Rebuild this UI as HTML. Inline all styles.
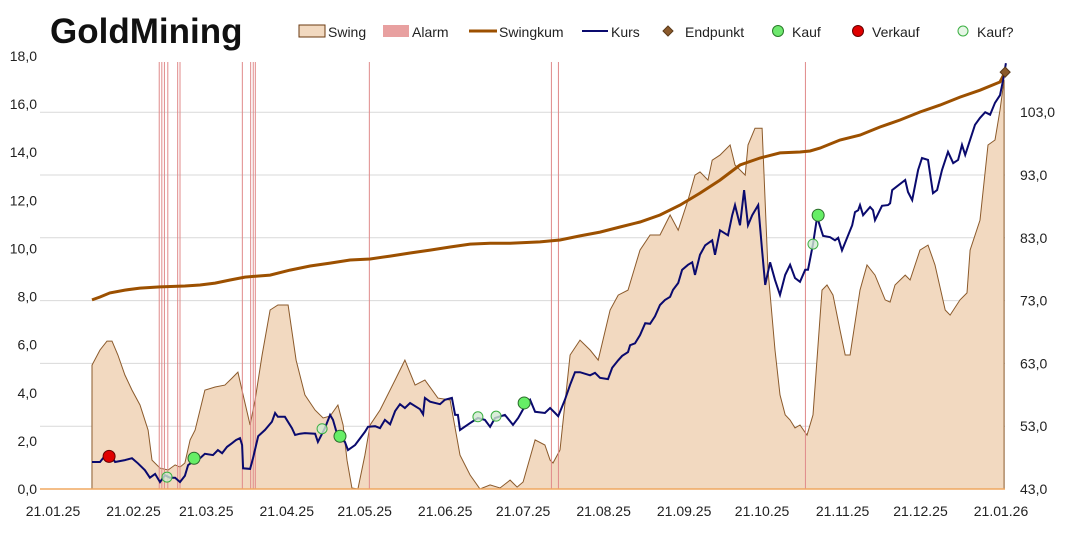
<!DOCTYPE html>
<html><head><meta charset="utf-8">
<style>
body{margin:0;background:#fff;}
svg{display:block;font-family:"Liberation Sans",sans-serif;}
</style></head>
<body>
<svg id="chart" width="1066" height="556" viewBox="0 0 1066 556">
<text x="50" y="43" font-size="35" font-weight="bold" fill="#111">GoldMining</text>
<g id="legend" font-size="14" fill="#222">
 <g><rect x="299" y="25" width="26" height="12" fill="#f2d9c0" stroke="#6b3a10" stroke-width="1"/><text x="328" y="37">Swing</text></g>
 <g><rect x="383" y="25" width="26" height="12" fill="#e8a0a0"/><text x="412" y="37">Alarm</text></g>
 <g><line x1="469" y1="31" x2="497" y2="31" stroke="#9c5000" stroke-width="3"/><text x="499" y="37">Swingkum</text></g>
 <g><line x1="582" y1="31" x2="608" y2="31" stroke="#0a0a6e" stroke-width="2"/><text x="611" y="37">Kurs</text></g>
 <g><polygon points="668,26 673,31 668,36 663,31" fill="#8b5a2b" stroke="#5a3a1a"/><text x="685" y="37">Endpunkt</text></g>
 <g><circle cx="778" cy="31" r="5.5" fill="#6ee86e" stroke="#2a7a2a"/><text x="792" y="37">Kauf</text></g>
 <g><circle cx="858" cy="31" r="5.5" fill="#e00000" stroke="#600"/><text x="872" y="37">Verkauf</text></g>
 <g><circle cx="963" cy="31" r="5" fill="#e6f6e6" stroke="#3cb043"/><text x="977" y="37">Kauf?</text></g>
</g>
<g id="grid"></g><g id="swing"></g><g id="alarms"></g><g id="lines"></g><g id="marks"></g><g id="axes"></g>
</svg>
<script>
const NS="http://www.w3.org/2000/svg";
const swingDays=[15.0,18.1,20.8,22.7,25.0,27.7,30.4,33.5,36.6,38.1,41.2,44.3,47.0,48.9,50.8,52.8,54.7,58.5,62.4,66.2,68.9,71.2,73.2,75.9,77.8,80.5,83.6,86.6,90.5,93.6,97.0,100.9,104.0,106.7,109.7,111.7,113.2,115.1,117.4,120.1,122.1,125.9,131.7,135.5,139.4,143.2,148.2,152.9,156.7,160.6,164.4,168.3,172.1,176.0,178.7,181.0,185.6,189.4,191.4,192.5,195.2,199.1,202.9,206.8,209.9,214.5,217.6,221.4,226.0,229.9,233.7,237.6,240.7,244.5,247.2,249.1,252.2,253.8,256.8,260.7,262.6,266.5,267.6,270.3,273.0,275.3,278.0,279.9,281.9,283.8,285.7,287.6,290.3,292.6,296.1,298.0,300.3,303.0,305.0,306.9,310.7,313.4,316.5,320.4,322.3,324.2,328.1,330.0,333.8,336.9,339.6,343.5,345.4,349.2,351.9,353.1,356.9,360.0,362.7,364.6,366.2];
const swingVals=[5.15,5.78,6.15,6.15,5.57,4.74,4.11,3.49,2.45,1.2,0.87,0.79,1.0,0.91,1.08,2.04,2.45,4.11,4.24,4.32,4.61,4.86,3.91,2.66,3.7,5.57,7.44,7.65,7.65,5.36,3.91,3.28,2.95,3.03,3.49,2.66,1.2,0.04,0,1.41,2.66,3.28,4.53,5.36,4.32,4.53,3.78,3.7,1.41,0.58,0,0.17,0.04,0.37,0.08,0.29,2.04,1.83,1.2,1.08,1.62,5.57,6.19,5.78,5.36,7.44,8.06,8.27,9.93,10.56,10.56,11.39,10.76,12.01,13.05,13.18,12.84,13.67,13.88,14.3,13.47,13.05,14.3,15.0,15.0,9.1,5.78,3.91,3.08,2.87,2.54,2.66,2.24,3.08,8.27,8.48,8.06,6.61,5.57,5.57,8.27,9.31,8.89,7.86,7.77,8.48,8.89,8.69,9.93,10.14,9.31,7.44,7.23,7.86,8.15,9.93,11.18,14.3,14.51,15.75,17.0];
const kursDays=[15.0,18.1,21.2,23.9,27.7,30.4,32.7,35.4,37.3,39.3,41.2,43.1,45.0,47.0,48.9,50.8,52.0,54.7,56.6,58.5,61.6,63.5,65.1,67.0,68.9,70.5,72.0,72.8,73.2,75.9,77.0,79.0,81.6,84.3,85.5,86.6,89.3,92.0,93.2,95.1,97.0,100.9,102.0,104.7,106.7,107.8,109.7,112.4,113.6,116.3,120.1,121.3,124.0,125.9,127.8,129.8,131.7,133.6,135.5,137.5,141.3,142.5,143.2,145.2,149.0,150.9,153.6,154.8,155.9,156.7,160.6,163.6,166.3,168.3,170.2,174.0,176.0,177.1,179.1,181.7,183.7,185.6,189.4,191.4,193.3,194.5,197.1,199.1,201.0,202.9,206.8,208.7,210.6,213.7,215.3,217.6,219.1,221.4,222.2,224.1,226.0,228.0,229.9,231.8,233.7,235.6,237.6,238.7,240.7,242.2,244.5,246.1,247.2,249.1,251.1,253.8,254.9,256.8,259.9,261.5,262.6,264.5,266.1,267.6,269.2,271.5,273.0,274.2,276.1,278.0,279.9,281.9,283.8,285.7,287.6,289.6,290.7,292.6,294.2,296.5,299.2,301.1,302.3,303.8,307.7,308.8,310.0,310.7,311.9,314.6,315.7,316.5,319.2,321.5,322.3,323.1,328.1,329.2,330.8,333.1,334.6,336.9,338.8,340.4,342.3,344.6,346.6,348.5,350.0,351.2,355.0,356.9,358.9,360.8,362.7,364.6,365.8,366.9];
const kursVals=[47.3,47.3,48.9,47.3,47.6,47.9,47.1,46.0,44.8,45.4,44.1,45.2,44.8,44.8,44.1,45.1,46.8,47.6,47.9,48.6,48.4,49.2,48.7,49.7,50.3,50.8,51.1,50.0,46.3,46.2,47.9,51.4,52.4,53.7,55.1,54.5,54.5,52.7,51.6,51.8,51.9,51.8,50.5,52.7,54.8,54.0,51.3,50.5,49.2,50.0,52.1,52.9,53.0,52.7,54.0,53.3,55.4,56.5,55.9,56.7,55.7,54.9,57.5,56.9,56.5,57.2,57.5,54.8,54.8,52.4,53.5,54.3,54.0,52.9,54.3,54.8,53.8,53.2,54.3,56.2,57.2,55.3,55.1,55.9,55.1,54.6,57.2,59.6,61.6,61.6,61.1,61.5,60.7,60.5,62.3,63.5,64.2,64.8,65.9,66.2,67.5,69.4,69.3,70.5,72.3,73.1,73.6,74.7,75.8,77.9,78.7,79.1,77.1,80.3,81.8,82.6,80.3,84.2,83.4,86.6,88.2,85.0,90.6,85.0,86.6,88.2,81.0,75.5,79.1,76.3,73.9,77.1,78.7,76.6,76.0,77.9,77.9,82.0,86.3,83.3,83.1,82.6,83.0,81.0,85.0,87.1,87.4,88.2,86.6,87.9,87.4,85.8,88.1,88.2,88.5,90.6,92.2,90.3,89.0,93.8,95.7,95.4,90.1,90.6,93.8,96.7,94.9,95.4,97.8,96.2,101.0,102.1,103.0,102.6,104.5,105.7,108.1,110.8];
const kumDays=[15.0,18.1,21.9,27.7,33.5,41.2,50.8,56.6,62.4,68.2,73.9,83.6,91.3,99.0,106.7,114.4,122.1,129.8,137.5,145.2,152.9,160.6,168.3,176.0,187.5,195.2,202.9,210.6,218.3,226.0,233.7,241.4,249.1,256.8,264.5,272.2,279.9,287.6,291.5,295.3,303.0,310.7,318.4,326.1,333.8,341.5,349.2,356.9,364.6,366.6];
const kumVals=[7.86,7.98,8.15,8.27,8.35,8.4,8.44,8.48,8.56,8.69,8.81,8.89,9.1,9.27,9.39,9.52,9.56,9.68,9.81,9.93,10.06,10.18,10.22,10.22,10.27,10.35,10.52,10.68,10.89,11.1,11.39,11.8,12.3,12.84,13.47,13.76,13.97,14.01,14.05,14.17,14.51,14.71,15.05,15.34,15.67,15.96,16.29,16.58,16.92,17.33];
const alarmDays=[40.9,41.9,42.9,44.2,48.0,48.9,72.9,76.1,77.1,77.9,121.8,191.9,194.6,289.7];
const kaufDays=[54.3,110.5,181.4,294.6];
const kaufVals=[47.9,51.4,56.7,86.6];
const kaufQDays=[43.9,103.6,163.6,170.6,292.6];
const kaufQVals=[44.9,52.6,54.5,54.6,82.0];
const verkaufDays=[21.6];
const verkaufVals=[48.2];
const endDays=[366.6];
const endVals=[17.33];
const leftTicks=["0,0","2,0","4,0","6,0","8,0","10,0","12,0","14,0","16,0","18,0"];
const rightTicks=["43,0","53,0","63,0","73,0","83,0","93,0","103,0"];
const xTicks=["21.01.25","21.02.25","21.03.25","21.04.25","21.05.25","21.06.25","21.07.25","21.08.25","21.09.25","21.10.25","21.11.25","21.12.25","21.01.26"];
const xTickDays=[0,31,59,90,120,151,181,212,243,273,304,334,365];

const X=d=>53+d*948/365;
const YL=v=>489-v*(433/18);
const YR=v=>489-(v-43)*6.28;
function el(tag,attrs,parent){const e=document.createElementNS(NS,tag);for(const k in attrs)e.setAttribute(k,attrs[k]);document.getElementById(parent).appendChild(e);return e;}

rightTicks.forEach((t,i)=>{const v=parseFloat(t.replace(',','.'));const y=YR(v);
 if(i>0){const g=el('line',{x1:40,x2:1005,y1:y,y2:y,stroke:'#d9d9d9','stroke-width':1},'grid');
 
 }
 const tx=el('text',{x:1020,y:y+5,'font-size':14,fill:'#222'},'axes');tx.textContent=t;
 
 });
leftTicks.forEach(t=>{const v=parseFloat(t.replace(',','.'));
 const tx=el('text',{x:37,y:YL(v)+5,'font-size':14,fill:'#222','text-anchor':'end'},'axes');tx.textContent=t;
 
 });
xTicks.forEach((t,i)=>{const tx=el('text',{x:X(xTickDays[i]),y:516,'font-size':14,fill:'#222','text-anchor':'middle'},'axes');tx.textContent=t;
 
 });
const base=el('line',{x1:40,x2:1005,y1:489,y2:489,stroke:'#f0a860','stroke-width':1.5},'axes');



let p='M'+X(swingDays[0])+','+YL(0);
swingDays.forEach((d,i)=>{p+=' L'+X(d).toFixed(1)+','+YL(swingVals[i]).toFixed(1);});
p+=' L'+X(swingDays[swingDays.length-1]).toFixed(1)+','+YL(0)+' Z';
const sw=el('path',{d:p,fill:'#f2d9c0',stroke:'#8b5a2b','stroke-width':1},'swing');



alarmDays.forEach(d=>{const l=el('line',{x1:X(d),x2:X(d),y1:62,y2:489,stroke:'#e08a8a','stroke-width':1},'alarms');
 
 });

const kum=el('polyline',{points:kumDays.map((d,i)=>X(d).toFixed(1)+','+YL(kumVals[i]).toFixed(1)).join(' '),fill:'none',stroke:'#9c5000','stroke-width':3},'lines');


const ku=el('polyline',{points:kursDays.map((d,i)=>X(d).toFixed(1)+','+YR(kursVals[i]).toFixed(1)).join(' '),fill:'none',stroke:'#0a0a6e','stroke-width':2},'lines');



kaufQDays.forEach((d,i)=>{const c=el('circle',{cx:X(d),cy:YR(kaufQVals[i]),r:5,fill:'#cfe8cf','fill-opacity':0.8,stroke:'#3cb043'},'marks');
 
 });
kaufDays.forEach((d,i)=>{const c=el('circle',{cx:X(d),cy:YR(kaufVals[i]),r:6,fill:'#66ee66',stroke:'#2a6a2a'},'marks');
 
 });
verkaufDays.forEach((d,i)=>{const c=el('circle',{cx:X(d),cy:YR(verkaufVals[i]),r:6,fill:'#e00000',stroke:'#600'},'marks');
 
 });
endDays.forEach((d,i)=>{const x=X(d),y=YL(endVals[i]);
 const pg=el('polygon',{points:`${x},${y-5} ${x+5},${y} ${x},${y+5} ${x-5},${y}`,fill:'#8b5a2b',stroke:'#5a3a1a'},'marks');
 
 });
</script>
</body></html>
